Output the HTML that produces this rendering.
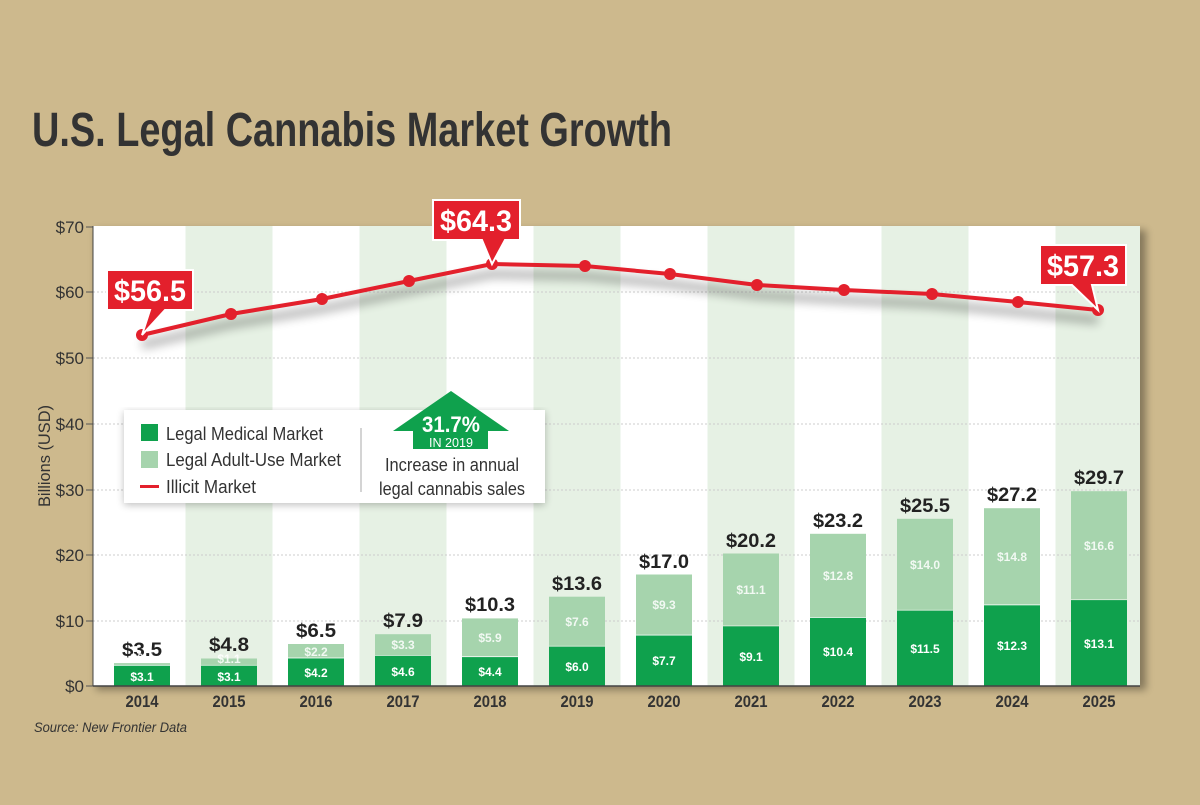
<!DOCTYPE html>
<html><head><meta charset="utf-8"><style>
body{margin:0;width:1200px;height:800px;background:#cdb98d;overflow:hidden;font-family:"Liberation Sans",sans-serif}
</style></head><body>
<svg width="1200" height="800" xmlns="http://www.w3.org/2000/svg" font-family="Liberation Sans, sans-serif">
<defs>
<filter id="sh" x="-5%" y="-5%" width="110%" height="115%"><feGaussianBlur stdDeviation="4"/></filter>
<filter id="ls" x="-5%" y="-50%" width="110%" height="200%"><feGaussianBlur stdDeviation="5"/></filter>
</defs>
<text x="32" y="146" font-size="48" font-weight="bold" fill="#333" textLength="640" lengthAdjust="spacingAndGlyphs">U.S. Legal Cannabis Market Growth</text>
<rect x="96" y="230" width="1050" height="460" fill="#000" opacity="0.35" filter="url(#sh)"/>
<rect x="93" y="226" width="1047" height="460" fill="#fff"/>
<g fill="#e6f1e4">
<rect x="185.5" y="226" width="87" height="460"/>
<rect x="359.5" y="226" width="87" height="460"/>
<rect x="533.5" y="226" width="87" height="460"/>
<rect x="707.5" y="226" width="87" height="460"/>
<rect x="881.5" y="226" width="87" height="460"/>
<rect x="1055.5" y="226" width="84.5" height="460"/>
</g>
<g stroke="#ccc" stroke-dasharray="2,2" stroke-width="1">
<line x1="93" x2="1140" y1="621" y2="621"/><line x1="93" x2="1140" y1="555" y2="555"/><line x1="93" x2="1140" y1="490" y2="490"/><line x1="93" x2="1140" y1="424" y2="424"/><line x1="93" x2="1140" y1="358" y2="358"/><line x1="93" x2="1140" y1="292" y2="292"/>
</g>
<g stroke="#555" stroke-width="1"><line x1="86" x2="93" y1="686" y2="686"/><line x1="86" x2="93" y1="621" y2="621"/><line x1="86" x2="93" y1="555" y2="555"/><line x1="86" x2="93" y1="490" y2="490"/><line x1="86" x2="93" y1="424" y2="424"/><line x1="86" x2="93" y1="358" y2="358"/><line x1="86" x2="93" y1="292" y2="292"/><line x1="86" x2="93" y1="227" y2="227"/></g>
<g font-size="17" fill="#333" text-anchor="end">
<text x="84" y="692">$0</text><text x="84" y="627">$10</text><text x="84" y="561">$20</text><text x="84" y="496">$30</text><text x="84" y="430">$40</text><text x="84" y="364">$50</text><text x="84" y="298">$60</text><text x="84" y="233">$70</text>
</g>
<text transform="translate(50 456) rotate(-90)" text-anchor="middle" font-size="17" fill="#333" textLength="102" lengthAdjust="spacingAndGlyphs">Billions (USD)</text>

<g fill="#0fa14d">
<rect x="114" y="665.7" width="56" height="20.3"/>
<rect x="201" y="665.7" width="56" height="20.3"/>
<rect x="288" y="658.4" width="56" height="27.6"/>
<rect x="375" y="655.8" width="56" height="30.2"/>
<rect x="462" y="657.1" width="56" height="28.9"/>
<rect x="549" y="646.6" width="56" height="39.4"/>
<rect x="636" y="635.5" width="56" height="50.5"/>
<rect x="723" y="626.3" width="56" height="59.7"/>
<rect x="810" y="617.8" width="56" height="68.2"/>
<rect x="897" y="610.6" width="56" height="75.4"/>
<rect x="984" y="605.3" width="56" height="80.7"/>
<rect x="1071" y="600.1" width="56" height="85.9"/>
</g>
<g fill="#a6d4ad">
<rect x="114" y="663.1" width="56" height="1.8"/>
<rect x="201" y="658.5" width="56" height="6.4"/>
<rect x="288" y="644.0" width="56" height="13.6"/>
<rect x="375" y="634.2" width="56" height="20.8"/>
<rect x="462" y="618.4" width="56" height="37.9"/>
<rect x="549" y="596.7" width="56" height="49.1"/>
<rect x="636" y="574.5" width="56" height="60.2"/>
<rect x="723" y="553.5" width="56" height="72.0"/>
<rect x="810" y="533.8" width="56" height="83.2"/>
<rect x="897" y="518.8" width="56" height="91.0"/>
<rect x="984" y="508.2" width="56" height="96.3"/>
<rect x="1071" y="491.2" width="56" height="108.1"/>
</g>
<g font-size="19" font-weight="bold" fill="#222" text-anchor="middle">
<text x="142" y="656" textLength="40" lengthAdjust="spacingAndGlyphs">$3.5</text>
<text x="229" y="651" textLength="40" lengthAdjust="spacingAndGlyphs">$4.8</text>
<text x="316" y="637" textLength="40" lengthAdjust="spacingAndGlyphs">$6.5</text>
<text x="403" y="627" textLength="40" lengthAdjust="spacingAndGlyphs">$7.9</text>
<text x="490" y="611" textLength="50" lengthAdjust="spacingAndGlyphs">$10.3</text>
<text x="577" y="590" textLength="50" lengthAdjust="spacingAndGlyphs">$13.6</text>
<text x="664" y="568" textLength="50" lengthAdjust="spacingAndGlyphs">$17.0</text>
<text x="751" y="547" textLength="50" lengthAdjust="spacingAndGlyphs">$20.2</text>
<text x="838" y="527" textLength="50" lengthAdjust="spacingAndGlyphs">$23.2</text>
<text x="925" y="512" textLength="50" lengthAdjust="spacingAndGlyphs">$25.5</text>
<text x="1012" y="501" textLength="50" lengthAdjust="spacingAndGlyphs">$27.2</text>
<text x="1099" y="484" textLength="50" lengthAdjust="spacingAndGlyphs">$29.7</text>
</g>
<g font-size="12" font-weight="bold" fill="#fff" text-anchor="middle">
<text x="142" y="681">$3.1</text><text x="229" y="681">$3.1</text><text x="316" y="677">$4.2</text><text x="403" y="676">$4.6</text><text x="490" y="676">$4.4</text><text x="577" y="671">$6.0</text><text x="664" y="665">$7.7</text><text x="751" y="661">$9.1</text><text x="838" y="656">$10.4</text><text x="925" y="653">$11.5</text><text x="1012" y="650">$12.3</text><text x="1099" y="648">$13.1</text>
</g>
<g font-size="12" font-weight="bold" fill="#fff" fill-opacity="0.85" text-anchor="middle">
<text x="142" y="662">$0.4</text><text x="229" y="663">$1.1</text><text x="316" y="656">$2.2</text><text x="403" y="649">$3.3</text><text x="490" y="642">$5.9</text><text x="577" y="626">$7.6</text><text x="664" y="609">$9.3</text><text x="751" y="594">$11.1</text><text x="838" y="580">$12.8</text><text x="925" y="569">$14.0</text><text x="1012" y="561">$14.8</text><text x="1099" y="550">$16.6</text>
</g>

<polyline points="142,345 231,324 322,309 409,291 492,274 585,276 670,284 757,295 844,300 932,304 1018,312 1098,320" fill="none" stroke="#000" stroke-width="8" opacity="0.3" filter="url(#ls)"/>
<polyline points="142,335 231,314 322,299 409,281 492,264 585,266 670,274 757,285 844,290 932,294 1018,302 1098,310" fill="none" stroke="#e3202c" stroke-width="4"/>
<g fill="#e3202c"><circle cx="142" cy="335" r="6"/><circle cx="231" cy="314" r="6"/><circle cx="322" cy="299" r="6"/><circle cx="409" cy="281" r="6"/><circle cx="492" cy="264" r="6"/><circle cx="585" cy="266" r="6"/><circle cx="670" cy="274" r="6"/><circle cx="757" cy="285" r="6"/><circle cx="844" cy="290" r="6"/><circle cx="932" cy="294" r="6"/><circle cx="1018" cy="302" r="6"/><circle cx="1098" cy="310" r="6"/></g>
<g stroke="#fff" stroke-width="2" fill="#e3202c">
<path d="M107,270 H193 V310 H165 L142,335 L150,310 H107 Z"/>
<path d="M433,200 H520 V240 H505 L492,264 L482,240 H433 Z"/>
<path d="M1040,245 H1126 V285 H1092 L1098,310 L1072,285 H1040 Z"/>
</g>
<g font-size="30" font-weight="bold" fill="#fff" text-anchor="middle">
<text x="150" y="301" textLength="72" lengthAdjust="spacingAndGlyphs">$56.5</text><text x="476" y="231" textLength="72" lengthAdjust="spacingAndGlyphs">$64.3</text><text x="1083" y="276" textLength="72" lengthAdjust="spacingAndGlyphs">$57.3</text>
</g>
<rect x="124" y="412" width="421" height="93" fill="#000" opacity="0.25" filter="url(#sh)"/>
<rect x="124" y="410" width="421" height="93" fill="#fff"/>
<rect x="141" y="424" width="17" height="17" fill="#0fa14d"/>
<rect x="141" y="451" width="17" height="17" fill="#a6d4ad"/>
<rect x="140" y="485" width="19" height="3" fill="#e3202c"/>
<g font-size="18" fill="#333"><text x="166" y="440" textLength="157" lengthAdjust="spacingAndGlyphs">Legal Medical Market</text><text x="166" y="466" textLength="175" lengthAdjust="spacingAndGlyphs">Legal Adult-Use Market</text><text x="166" y="493" textLength="90" lengthAdjust="spacingAndGlyphs">Illicit Market</text></g>
<line x1="361" x2="361" y1="428" y2="492" stroke="#aaa"/>
<path d="M393,431 L451,391 L509,431 H488 V449 H413 V431 Z" fill="#0fa14d"/>
<text x="451" y="432" font-size="22" font-weight="bold" fill="#fff" text-anchor="middle" textLength="58" lengthAdjust="spacingAndGlyphs">31.7%</text>
<text x="451" y="447" font-size="13" fill="#fff" text-anchor="middle" textLength="44" lengthAdjust="spacingAndGlyphs">IN 2019</text>
<g font-size="18" fill="#333" text-anchor="middle"><text x="452" y="471" textLength="134" lengthAdjust="spacingAndGlyphs">Increase in annual</text><text x="452" y="495" textLength="146" lengthAdjust="spacingAndGlyphs">legal cannabis sales</text></g>
<g font-size="17" font-weight="bold" fill="#333" text-anchor="middle">
<text x="142" y="707" textLength="33" lengthAdjust="spacingAndGlyphs">2014</text><text x="229" y="707" textLength="33" lengthAdjust="spacingAndGlyphs">2015</text><text x="316" y="707" textLength="33" lengthAdjust="spacingAndGlyphs">2016</text><text x="403" y="707" textLength="33" lengthAdjust="spacingAndGlyphs">2017</text><text x="490" y="707" textLength="33" lengthAdjust="spacingAndGlyphs">2018</text><text x="577" y="707" textLength="33" lengthAdjust="spacingAndGlyphs">2019</text><text x="664" y="707" textLength="33" lengthAdjust="spacingAndGlyphs">2020</text><text x="751" y="707" textLength="33" lengthAdjust="spacingAndGlyphs">2021</text><text x="838" y="707" textLength="33" lengthAdjust="spacingAndGlyphs">2022</text><text x="925" y="707" textLength="33" lengthAdjust="spacingAndGlyphs">2023</text><text x="1012" y="707" textLength="33" lengthAdjust="spacingAndGlyphs">2024</text><text x="1099" y="707" textLength="33" lengthAdjust="spacingAndGlyphs">2025</text>
</g>
<text x="34" y="732" font-size="14" font-style="italic" fill="#333" textLength="153" lengthAdjust="spacingAndGlyphs">Source: New Frontier Data</text>
<line x1="93" x2="1140" y1="686" y2="686" stroke="#444" stroke-width="1.5"/>
<line x1="93" x2="93" y1="226" y2="686" stroke="#444" stroke-width="1"/>
</svg>
</body></html>
